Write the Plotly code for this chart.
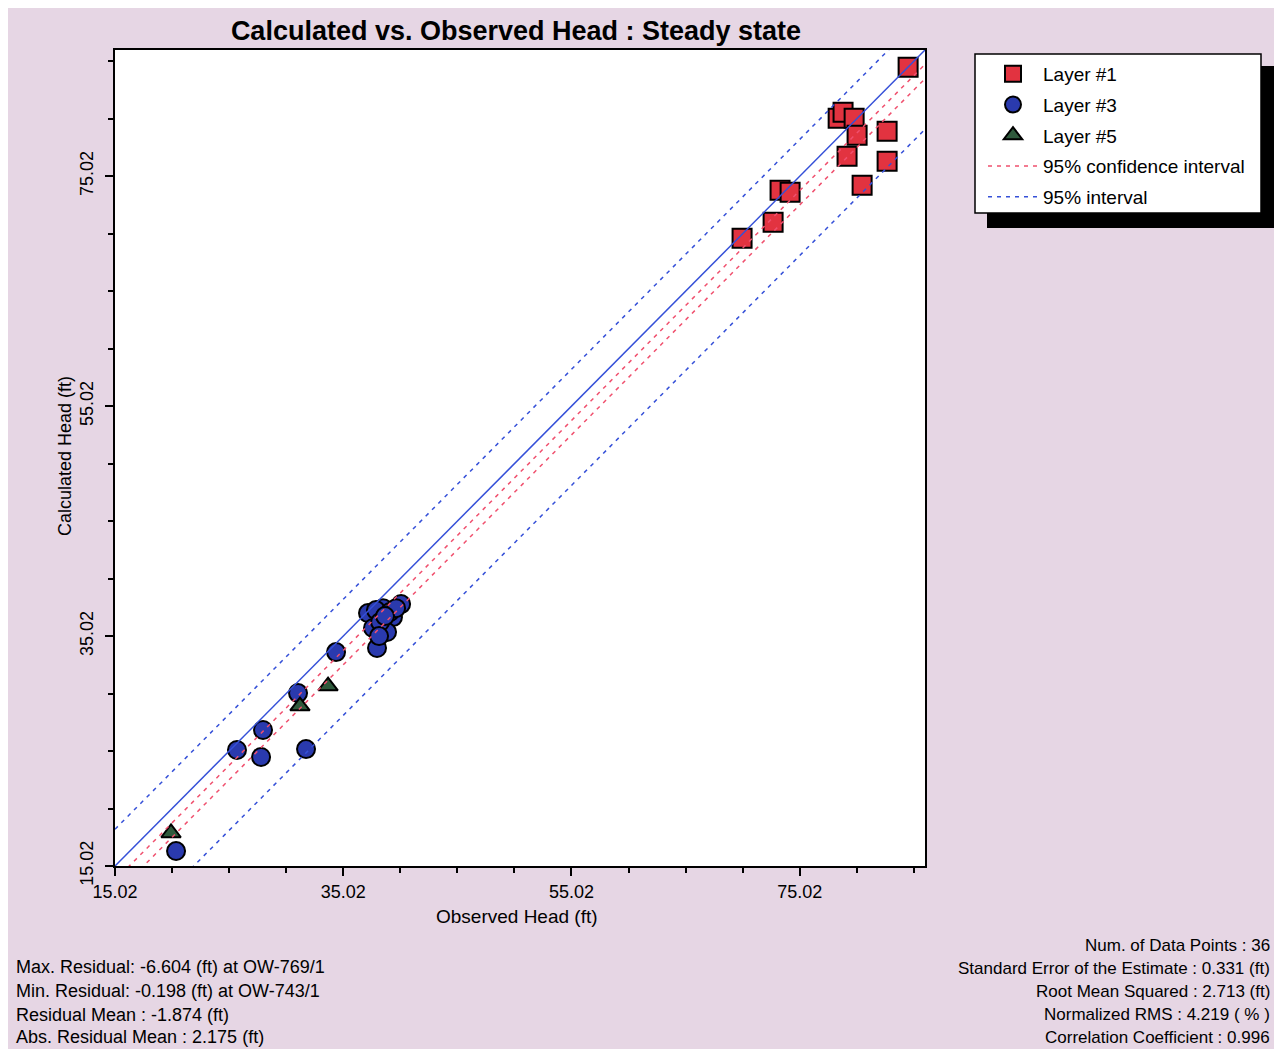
import plotly.graph_objects as go

# the page body adds an 8px margin, so the figure is sized to fit inside it
OFF = 8
W, H = 1282 - 2 * OFF, 1057 - 2 * OFF

# ---------------- data ----------------
layer1_obs = [84.52, 78.39, 78.82, 79.79, 80.05, 79.17, 82.68, 82.68, 80.49, 73.30, 74.18, 72.69, 69.97]
layer1_calc = [84.50, 80.06, 80.59, 80.06, 78.59, 76.76, 78.93, 76.32, 74.24, 73.80, 73.63, 71.02, 69.63]

layer3_obs = [20.37, 25.71, 27.82, 27.99, 31.76, 31.06, 34.39, 37.98,
              37.19, 38.51, 40.09, 39.38, 37.63, 38.86, 37.89, 39.12, 38.25, 39.65, 38.16, 38.68]
layer3_calc = [16.32, 25.11, 24.50, 26.85, 25.19, 30.06, 33.63, 33.98,
               37.02, 37.45, 37.80, 36.67, 35.72, 35.37, 37.28, 37.11, 36.24, 37.45, 35.02, 36.76]

layer5_obs = [19.93, 31.23, 33.69]
layer5_calc = [17.89, 28.93, 30.67]

axis_range = [15.02, 86.0]
tick_vals = [15.02, 35.02, 55.02, 75.02]
tick_text = ["15.02", "35.02", "55.02", "75.02"]

# reference lines: offsets from the 1:1 line
line_x = [15.02, 86.0]
conf_offsets = [-1.25, -2.5]      # 95% confidence interval
interval_offsets = [3.2, -6.9]    # 95% interval

stats_left = [
    "Max. Residual: -6.604 (ft) at OW-769/1",
    "Min. Residual: -0.198 (ft) at OW-743/1",
    "Residual Mean : -1.874 (ft)",
    "Abs. Residual Mean : 2.175 (ft)",
]
stats_right = [
    "Num. of Data Points : 36",
    "Standard Error of the Estimate : 0.331 (ft)",
    "Root Mean Squared : 2.713 (ft)",
    "Normalized RMS : 4.219 ( % )",
    "Correlation Coefficient : 0.996",
]


# ---------------- helpers (screen pixel -> paper fraction) ----------------
def px(x):
    return (x - OFF) / W


def py(y):
    return 1 - (y - OFF) / H


FONT = "Arial, Liberation Sans, sans-serif"
BG = "#E6D6E4"
RED = "#E23340"
BLUE = "#2A3AAE"
GREEN = "#2F5A3C"
LBLUE = "#3550D8"
LRED = "#F0506E"

fig = go.Figure()

fig.add_trace(go.Scatter(
    x=layer1_obs, y=layer1_calc, mode="markers", name="Layer #1", legendgroup="g1",
    marker=dict(symbol="square", size=19, color=RED, line=dict(color="black", width=2)),
))
fig.add_trace(go.Scatter(
    x=layer3_obs, y=layer3_calc, mode="markers", name="Layer #3", legendgroup="g3",
    marker=dict(symbol="circle", size=18, color=BLUE, line=dict(color="black", width=2)),
))
fig.add_trace(go.Scatter(
    x=layer5_obs, y=layer5_calc, mode="markers", name="Layer #5", legendgroup="g5",
    marker=dict(symbol="triangle-up", size=17, color=GREEN, line=dict(color="black", width=2)),
))

for i, off in enumerate(conf_offsets):
    fig.add_trace(go.Scatter(
        x=line_x, y=[v + off for v in line_x], mode="lines",
        name="95% confidence interval", legendgroup="gc", showlegend=(i == 0),
        line=dict(color=LRED, width=1.5, dash="4px,5px"),
    ))
for i, off in enumerate(interval_offsets):
    fig.add_trace(go.Scatter(
        x=line_x, y=[v + off for v in line_x], mode="lines",
        name="95% interval", legendgroup="gi", showlegend=(i == 0),
        line=dict(color=LBLUE, width=1.5, dash="4px,5px"),
    ))
fig.add_trace(go.Scatter(
    x=line_x, y=line_x, mode="lines", name="1:1", showlegend=False,
    line=dict(color=LBLUE, width=1.5),
))

axis_common = dict(
    range=axis_range, tickvals=tick_vals, ticktext=tick_text,
    showgrid=False, zeroline=False, showline=True, mirror=True,
    linecolor="black", linewidth=2, ticks="outside", ticklen=8, tickwidth=2,
    tickcolor="black", tickfont=dict(family=FONT, size=18, color="black"),
    automargin=False,
    minor=dict(tick0=15.02, dtick=5, ticks="outside", ticklen=5, tickwidth=2, tickcolor="black"),
)

fig.update_layout(
    width=W, height=H,
    margin=dict(l=0, r=0, t=0, b=0, autoexpand=False),
    paper_bgcolor=BG, plot_bgcolor="white",
    xaxis=dict(domain=[px(115), px(925)], **axis_common),
    yaxis=dict(domain=[py(866), py(50)], tickangle=-90, ticklabelstandoff=5, **axis_common),
    title=dict(text="<b>Calculated vs. Observed Head : Steady state</b>",
               x=px(516), y=py(31), xanchor="center", yanchor="middle",
               font=dict(family=FONT, size=27, color="black")),
    showlegend=True,
    legend=dict(x=px(983), y=py(55), xanchor="left", yanchor="top",
                bgcolor="rgba(0,0,0,0)", borderwidth=0,
                font=dict(family=FONT, size=19, color="black"),
                itemwidth=50, tracegroupgap=3, traceorder="grouped"),
)

# legend box with shadow
fig.add_shape(type="rect", xref="paper", yref="paper",
              x0=px(987), x1=px(1276), y0=py(228), y1=py(66),
              fillcolor="black", line=dict(width=0), layer="below")
fig.add_shape(type="rect", xref="paper", yref="paper",
              x0=px(975), x1=px(1261), y0=py(213), y1=py(54),
              fillcolor="white", line=dict(color="black", width=1.5), layer="below")

# axis titles
fig.add_annotation(text="Observed Head (ft)", xref="paper", yref="paper",
                   x=px(517), y=py(916), xanchor="center", yanchor="middle", showarrow=False,
                   font=dict(family=FONT, size=19, color="black"))
fig.add_annotation(text="Calculated Head (ft)", xref="paper", yref="paper",
                   x=px(65), y=py(456), xanchor="center", yanchor="middle", showarrow=False,
                   textangle=-90, font=dict(family=FONT, size=18, color="black"))

# statistics text
left_y = [967, 991, 1015, 1037]
right_y = [945, 968, 991, 1014, 1037]
for t, yy in zip(stats_left, left_y):
    fig.add_annotation(text=t, xref="paper", yref="paper", x=px(14), y=py(yy),
                       xanchor="left", yanchor="middle", showarrow=False,
                       font=dict(family=FONT, size=18, color="black"))
for t, yy in zip(stats_right, right_y):
    fig.add_annotation(text=t, xref="paper", yref="paper", x=px(1272), y=py(yy),
                       xanchor="right", yanchor="middle", showarrow=False,
                       font=dict(family=FONT, size=17, color="black"))

fig.write_html("out.html")
